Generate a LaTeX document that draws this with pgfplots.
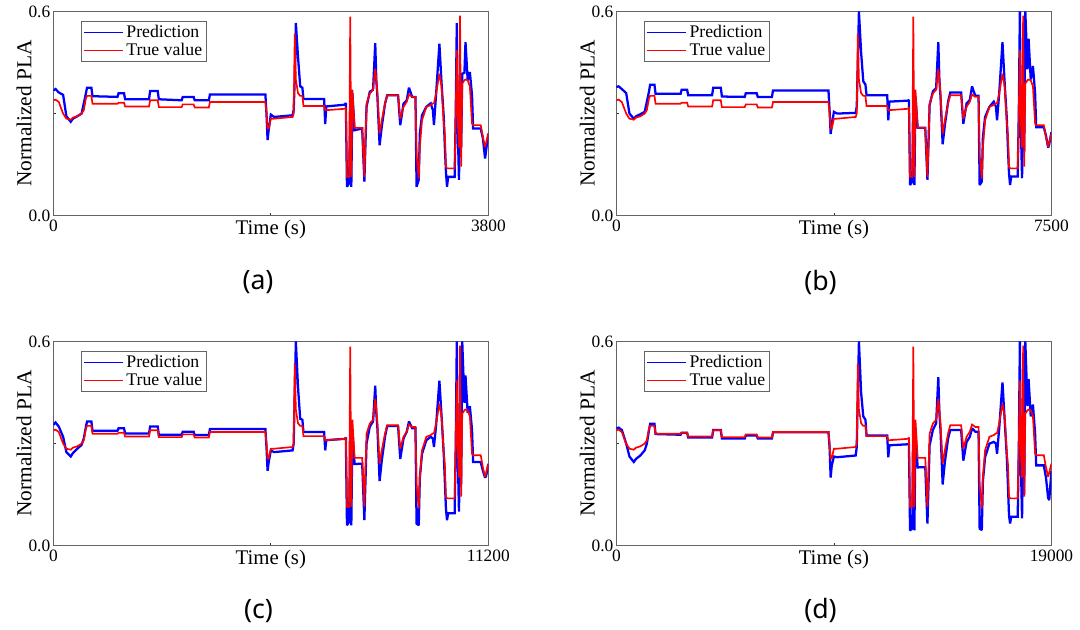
\documentclass[border=0pt]{standalone}
\usepackage{pgfplots}
\pgfplotsset{compat=1.18}
\usepackage{pgfplotstable}
\usepackage{fontspec}
\setmainfont{Liberation Serif}
\newfontfamily\capfont{Noto Sans}
\definecolor{framegray}{RGB}{100,100,100}
\definecolor{pblue}{RGB}{0,0,255}
\definecolor{tred}{RGB}{255,0,0}

\pgfplotstableread{
ta tb tc td r pa pb pc pd
0 0 0 0 0.339 0.368 0.378 0.355 0.345
19 37.5 56 95 0.341 0.372 0.380 0.362 0.347
47.5 93.75 140 237.5 0.334 0.362 0.372 0.350 0.340
85.5 168.75 252 427.5 0.300 0.355 0.360 0.320 0.300
114 225 336 570 0.285 0.292 0.300 0.275 0.262
152 300 448 760 0.282 0.276 0.285 0.262 0.246
171 337.5 504 855 0.288 0.285 0.292 0.272 0.255
209 412.5 616 1045 0.292 0.292 0.298 0.285 0.265
247 487.5 728 1235 0.300 0.300 0.305 0.296 0.280
266 525 784 1330 0.310 0.330 0.335 0.315 0.300
285 562.5 840 1425 0.345 0.360 0.365 0.350 0.340
294.5 581.25 868 1472.5 0.352 0.376 0.385 0.365 0.358
332.5 656.25 980 1662.5 0.352 0.376 0.385 0.365 0.358
342 675 1008 1710 0.329 0.351 0.358 0.338 0.328
560.5 1106.25 1652 2802.5 0.329 0.349 0.358 0.338 0.326
570 1125 1680 2850 0.332 0.360 0.370 0.345 0.332
617.5 1218.75 1820 3087.5 0.332 0.360 0.370 0.345 0.332
627 1237.5 1848 3135 0.321 0.342 0.354 0.330 0.318
836 1650 2464 4180 0.321 0.342 0.354 0.330 0.318
845.5 1668.75 2492 4227.5 0.339 0.366 0.376 0.350 0.340
912 1800 2688 4560 0.339 0.366 0.376 0.350 0.340
921.5 1818.75 2716 4607.5 0.319 0.342 0.350 0.326 0.315
1121 2212.5 3304 5605 0.319 0.339 0.349 0.326 0.315
1130.5 2231.25 3332 5652.5 0.327 0.349 0.360 0.335 0.324
1225.5 2418.75 3612 6127.5 0.327 0.349 0.360 0.335 0.324
1235 2437.5 3640 6175 0.318 0.339 0.349 0.325 0.315
1358.5 2681.25 4004 6792.5 0.318 0.339 0.349 0.325 0.315
1368 2700 4032 6840 0.334 0.356 0.368 0.343 0.333
1852.5 3656.25 5460 9262.5 0.334 0.356 0.368 0.343 0.333
1862 3675 5488 9310 0.300 0.300 0.310 0.290 0.290
1871.5 3693.75 5516 9357.5 0.256 0.222 0.240 0.220 0.200
1881 3712.5 5544 9405 0.256 0.251 0.265 0.245 0.235
1900 3750 5600 9500 0.285 0.297 0.305 0.280 0.262
1928.5 3806.25 5684 9642.5 0.285 0.290 0.300 0.275 0.260
2090 4125 6160 10450 0.290 0.295 0.302 0.280 0.265
2099.5 4143.75 6188 10497.5 0.300 0.310 0.320 0.300 0.290
2109 4162.5 6216 10545 0.535 0.400 0.450 0.450 0.450
2118.5 4181.25 6244 10592.5 0.400 0.566 0.600 0.600 0.600
2137.5 4218.75 6300 10687.5 0.360 0.466 0.480 0.465 0.450
2156.5 4256.25 6356 10782.5 0.352 0.380 0.395 0.373 0.380
2175.5 4293.75 6412 10877.5 0.352 0.376 0.385 0.370 0.370
2185 4312.5 6440 10925 0.322 0.343 0.354 0.334 0.324
2365.5 4668.75 6972 11827.5 0.322 0.343 0.354 0.334 0.324
2375 4687.5 7000 11875 0.310 0.269 0.280 0.280 0.260
2384.5 4706.25 7028 11922.5 0.310 0.321 0.335 0.310 0.295
2546 5025 7504 12730 0.314 0.326 0.338 0.314 0.298
2555.5 5043.75 7532 12777.5 0.318 0.331 0.340 0.318 0.300
2565 5062.5 7560 12825 0.114 0.085 0.090 0.060 0.045
2584 5100 7616 12920 0.114 0.095 0.100 0.070 0.050
2593.5 5118.75 7644 12967.5 0.585 0.300 0.280 0.330 0.320
2603 5137.5 7672 13015 0.114 0.085 0.090 0.060 0.045
2612.5 5156.25 7700 13062.5 0.370 0.360 0.350 0.340 0.330
2631.5 5193.75 7756 13157.5 0.258 0.251 0.258 0.240 0.230
2698 5325 7952 13490 0.258 0.256 0.258 0.241 0.231
2717 5362.5 8008 13585 0.114 0.100 0.105 0.075 0.065
2736 5400 8064 13680 0.329 0.320 0.325 0.300 0.295
2764.5 5456.25 8148 13822.5 0.359 0.364 0.365 0.350 0.340
2793 5512.5 8232 13965 0.370 0.370 0.375 0.365 0.360
2812 5550 8288 14060 0.432 0.507 0.510 0.470 0.495
2821.5 5568.75 8316 14107.5 0.400 0.398 0.400 0.390 0.390
2831 5587.5 8344 14155 0.359 0.349 0.350 0.345 0.340
2850 5625 8400 14250 0.241 0.207 0.210 0.190 0.180
2869 5662.5 8456 14345 0.280 0.261 0.265 0.250 0.245
2897.5 5718.75 8540 14487.5 0.330 0.329 0.335 0.320 0.315
2916.5 5756.25 8596 14582.5 0.354 0.354 0.362 0.352 0.340
3011.5 5943.75 8876 15057.5 0.354 0.354 0.362 0.352 0.340
3030.5 5981.25 8932 15152.5 0.285 0.266 0.270 0.255 0.250
3059 6037.5 9016 15295 0.320 0.329 0.330 0.315 0.305
3087.5 6093.75 9100 15437.5 0.335 0.339 0.340 0.335 0.320
3106.5 6131.25 9156 15532.5 0.356 0.376 0.380 0.365 0.345
3135 6187.5 9240 15675 0.349 0.349 0.352 0.345 0.335
3163.5 6243.75 9324 15817.5 0.349 0.349 0.352 0.345 0.335
3173 6262.5 9352 15865 0.180 0.085 0.090 0.065 0.050
3192 6300 9408 15960 0.109 0.105 0.100 0.060 0.046
3201.5 6318.75 9436 16007.5 0.200 0.241 0.230 0.200 0.190
3220.5 6356.25 9492 16102.5 0.280 0.295 0.290 0.270 0.260
3258.5 6431.25 9604 16292.5 0.320 0.320 0.320 0.310 0.300
3296.5 6506.25 9716 16482.5 0.325 0.330 0.335 0.320 0.305
3315.5 6543.75 9772 16577.5 0.330 0.310 0.320 0.315 0.300
3325 6562.5 9800 16625 0.330 0.266 0.280 0.290 0.270
3344 6600 9856 16720 0.360 0.359 0.360 0.355 0.345
3372.5 6656.25 9940 16862.5 0.417 0.505 0.510 0.485 0.480
3391.5 6693.75 9996 16957.5 0.380 0.388 0.390 0.380 0.370
3410.5 6731.25 10052 17052.5 0.271 0.290 0.285 0.270 0.260
3420 6750 10080 17100 0.240 0.202 0.200 0.190 0.180
3429.5 6768.75 10108 17147.5 0.144 0.130 0.125 0.110 0.090
3439 6787.5 10136 17195 0.139 0.085 0.090 0.075 0.065
3448.5 6806.25 10164 17242.5 0.139 0.114 0.115 0.095 0.085
3505.5 6918.75 10332 17527.5 0.139 0.114 0.115 0.095 0.085
3515 6937.5 10360 17575 0.300 0.300 0.300 0.290 0.280
3524.5 6956.25 10388 17622.5 0.486 0.566 0.600 0.600 0.600
3534 6975 10416 17670 0.271 0.241 0.250 0.250 0.230
3543.5 6993.75 10444 17717.5 0.200 0.105 0.110 0.100 0.080
3553 7012.5 10472 17765 0.588 0.300 0.320 0.310 0.300
3562.5 7031.25 10500 17812.5 0.144 0.200 0.190 0.180 0.150
3572 7050 10528 17860 0.388 0.417 0.600 0.600 0.600
3591 7087.5 10584 17955 0.398 0.420 0.430 0.420 0.410
3600.5 7106.25 10612 18002.5 0.400 0.510 0.520 0.500 0.490
3619.5 7143.75 10668 18097.5 0.398 0.398 0.400 0.390 0.380
3638.5 7181.25 10724 18192.5 0.380 0.422 0.440 0.410 0.415
3657.5 7218.75 10780 18287.5 0.271 0.354 0.360 0.340 0.330
3667 7237.5 10808 18335 0.266 0.256 0.260 0.246 0.236
3733.5 7368.75 11004 18667.5 0.266 0.256 0.260 0.246 0.236
3752.5 7406.25 11060 18762.5 0.230 0.227 0.235 0.220 0.200
3771.5 7443.75 11116 18857.5 0.202 0.168 0.200 0.200 0.140
3781 7462.5 11144 18905 0.215 0.193 0.210 0.205 0.134
3800 7500 11200 19000 0.241 0.241 0.245 0.240 0.220
}\data

\newcommand{\timelabel}{{\fontsize{15.6}{18}\selectfont Time (s)}}

\pgfplotsset{
  panel/.style={
    scale only axis, width=326.25pt, height=153.15pt, anchor=south west,
    xmin=0, ymin=0, ymax=0.6,
    every x tick scale label/.style={at={(axis description cs:0.5,-10)}, text=white},
    axis line style={draw=framegray, line width=0.8pt},
    tick align=inside, major tick length=2pt,
    tick style={draw=black!80, line width=0.6pt},
    xtick pos=bottom, ytick pos=left,
    ytick={0,0.3,0.6}, yticklabels={0.0,,0.6},
    /pgf/number format/assume math mode=true,
    tick label style={font=\fontsize{13}{15}\selectfont},
    yticklabel style={xshift=1.2pt},
    ylabel={Normalized PLA},
    ylabel style={font=\fontsize{16}{19}\selectfont, at={(axis description cs:-0.067,0.5)}, anchor=center},
    legend style={at={(axis description cs:0.064,0.955)}, anchor=north west,
      draw=framegray, line width=0.7pt, font=\fontsize{13.3}{15.5}\selectfont,
      inner xsep=1.5pt, inner ysep=1pt, row sep=-1pt},
    legend cell align=left,
    legend image code/.code={\draw[##1, line width=1.1pt] (0pt,0pt) -- (29pt,0pt);},
  },
  predline/.style={pblue, line width=1.7pt, line join=miter, miter limit=2},
  trueline/.style={tred, line width=1.25pt, line join=miter, miter limit=2},
}

\begin{document}
\begin{tikzpicture}
\useasboundingbox (0,0) rectangle (810pt,471.75pt);

\begin{axis}[panel, at={(40pt,310pt)}, xmax=3800, xtick={0,1900,3800}, xticklabels={0,\timelabel,3800}]
\addplot[predline] table[x=ta,y=pa]{\data}; \addlegendentry{Prediction}
\addplot[trueline] table[x=ta,y=r]{\data}; \addlegendentry{True value}
\end{axis}

\begin{axis}[panel, at={(462.3pt,310pt)}, xmax=7500, xtick={0,3750,7500}, xticklabels={0,\timelabel,7500}]
\addplot[predline] table[x=tb,y=pb]{\data}; \addlegendentry{Prediction}
\addplot[trueline] table[x=tb,y=r]{\data}; \addlegendentry{True value}
\end{axis}

\begin{axis}[panel, at={(40pt,62.5pt)}, xmax=11200, xtick={0,5600,11200}, xticklabels={0,\timelabel,11200}]
\addplot[predline] table[x=tc,y=pc]{\data}; \addlegendentry{Prediction}
\addplot[trueline] table[x=tc,y=r]{\data}; \addlegendentry{True value}
\end{axis}

\begin{axis}[panel, at={(462.3pt,62.5pt)}, xmax=19000, xtick={0,9500,19000}, xticklabels={0,\timelabel,19000}]
\addplot[predline] table[x=td,y=pd]{\data}; \addlegendentry{Prediction}
\addplot[trueline] table[x=td,y=r]{\data}; \addlegendentry{True value}
\end{axis}

\node[font={\capfont\fontsize{20}{24}\selectfont}] at (193.5pt,259.9pt) {(a)};
\node[font={\capfont\fontsize{20}{24}\selectfont}] at (615.4pt,259.9pt) {(b)};
\node[font={\capfont\fontsize{20}{24}\selectfont}] at (193.8pt,13.65pt) {(c)};
\node[font={\capfont\fontsize{20}{24}\selectfont}] at (615.4pt,13.65pt) {(d)};
\end{tikzpicture}
\end{document}
